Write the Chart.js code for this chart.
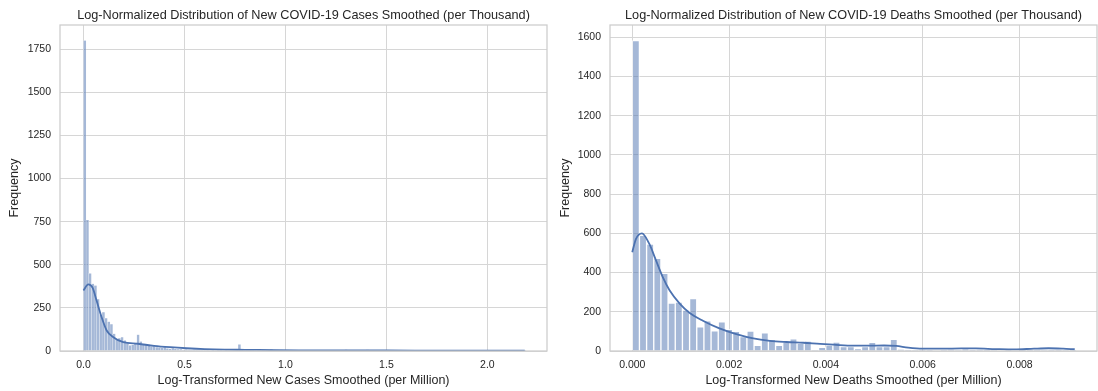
<!DOCTYPE html>
<html>
<head>
<meta charset="utf-8">
<script src="https://cdn.jsdelivr.net/npm/chart.js@4.4.1/dist/chart.umd.min.js"></script>
<style>
  body { margin: 0; background: #fff; width: 1098px; height: 391px; overflow: hidden; position: relative; }
  .panel { position: absolute; top: 0; width: 549px; height: 391px; }
</style>
</head>
<body>
<div class="panel" style="left:0"><canvas id="cases" width="549" height="391"></canvas></div>
<div class="panel" style="left:549px"><canvas id="deaths" width="549" height="391"></canvas></div>
<script>
// histogram bins: first edge + width, counts
const casesBinStart = 0;
const casesBinWidth = 0.0132;
const casesCounts = [
  1800, 760, 450, 390, 380, 300, 210, 225, 190, 170,
  155, 100, 70, 75, 80, 62, 45, 33, 35, 48,
  95, 55, 35, 38, 30, 25, 28, 22, 20, 18,
  22, 15, 14, 16, 12, 10, 11, 8, 9, 7,
  6, 8, 5, 6, 4, 5, 4, 3, 6, 3,
  8, 2, 3, 2, 3, 2, 4, 2, 38, 5,
  3, 2, 4, 1, 3, 2, 1, 2, 3, 1,
  9, 2, 1, 3, 1, 2, 0, 1, 2, 1,
  1, 0, 2, 1, 0, 1, 2, 0, 1, 1,
  0, 1, 2, 0, 1, 0, 1, 2, 8, 1,
  0, 1, 0, 2, 1, 0, 7, 1, 0, 1,
  0, 1, 0, 0, 1, 0, 1, 0, 0, 1,
  0, 0, 1, 0, 1, 0, 0, 1, 0, 0,
  1, 0, 0, 1, 0, 0, 1, 0, 0, 1,
  0, 0, 1, 0, 0, 0, 1, 0, 0, 1,
  0, 0, 0, 1, 0, 0, 1, 0, 0, 0,
  1, 0, 0, 1, 0, 6
];
const casesKdeX = [0, 0.024, 0.045, 0.065, 0.09, 0.115, 0.148, 0.197, 0.27, 0.35, 0.43, 0.51, 0.6, 0.7, 0.8, 0.95, 1.1, 1.3, 1.5, 1.7, 1.9, 2.1, 2.185];
const casesKdeY = [351, 386, 367, 293, 196, 119, 80, 51, 42, 30, 22, 16, 11, 8, 7, 5, 4, 3, 3, 2.5, 2, 2, 2];
const casesXTicks = [0, 0.5, 1, 1.5, 2];
const casesYTicks = [0, 250, 500, 750, 1000, 1250, 1500, 1750];

const deathsBinStart = 0;
const deathsBinWidth = 0.000148;
const deathsCounts = [
  1583, 590, 545, 472, 396, 244, 250, 208, 267, 123,
  154, 103, 149, 110, 100, 73, 101, 29, 93, 59,
  29, 46, 62, 39, 51, 3, 19, 30, 46, 22,
  22, 12, 22, 44, 22, 22, 59, 8, 5, 3,
  6, 4, 0, 5, 7, 3, 9, 4, 6, 2,
  3, 0, 2, 0, 1, 4, 6, 3, 5, 2,
  3, 4
];
const deathsKdeX = [0, 0.000077, 0.0002, 0.00035, 0.00049, 0.00063, 0.00077, 0.00098, 0.00118, 0.00146, 0.0018, 0.00215, 0.0025, 0.00284, 0.00319, 0.00353, 0.00388, 0.00416, 0.00457, 0.00488, 0.0052, 0.00545, 0.0057, 0.006, 0.0064, 0.0068, 0.0071, 0.0075, 0.0079, 0.0083, 0.0086, 0.0089, 0.00914];
const deathsKdeY = [504, 572, 600, 547, 462, 377, 310, 242, 195, 154, 115, 86, 64, 52, 46, 42, 36, 32, 27, 27, 28, 26, 17, 12, 12, 13, 13, 10, 8, 12, 14, 12, 9];
const deathsXTicks = [0, 0.002, 0.004, 0.006, 0.008];
const deathsYTicks = [0, 200, 400, 600, 800, 1000, 1200, 1400, 1600];

const FONT = '"Liberation Sans", Arial, sans-serif';
const INK = '#262626';
const GRID = '#d6d6d6';

// spines on all four sides
const framePlugin = {
  id: 'frame',
  afterDatasetsDraw(chart) {
    const a = chart.chartArea, ctx = chart.ctx;
    ctx.save();
    ctx.strokeStyle = '#cccccc';
    ctx.lineWidth = 1.25;
    ctx.strokeRect(a.left, a.top, a.right - a.left, a.bottom - a.top);
    ctx.restore();
  }
};

// axes title, centred over the plot area like matplotlib does
const axTitlePlugin = {
  id: 'axTitle',
  afterDraw(chart, args, opts) {
    const a = chart.chartArea, ctx = chart.ctx;
    ctx.save();
    ctx.fillStyle = INK;
    ctx.font = '12.7px ' + FONT;
    ctx.textAlign = 'center';
    ctx.textBaseline = 'middle';
    ctx.fillText(opts.text, (a.left + a.right) / 2, 15.5);
    ctx.restore();
  }
};

function makeHist(canvasId, o) {
  const bars = o.counts.map((c, i) => ({ x: o.binStart + (i + 0.5) * o.binWidth, y: c }));
  const kde = o.kdeX.map((x, i) => ({ x: x, y: o.kdeY[i] }));
  return new Chart(document.getElementById(canvasId), {
    type: 'bar',
    data: {
      datasets: [{
        type: 'line',
        data: kde,
        borderColor: '#4c72b0',
        borderWidth: 1.8,
        pointRadius: 0,
        cubicInterpolationMode: 'monotone',
        order: 0
      }, {
        type: 'bar',
        data: bars,
        backgroundColor: 'rgba(76,114,176,0.5)',
        borderColor: 'rgba(255,255,255,0.75)',
        borderWidth: o.barBorder,
        borderSkipped: 'start',
        barPercentage: 1,
        categoryPercentage: 1,
        grouped: false,
        order: 1
      }]
    },
    options: {
      responsive: false,
      animation: false,
      layout: { padding: { left: 0, right: o.padRight, top: 25, bottom: 0 } },
      plugins: {
        legend: { display: false },
        tooltip: { enabled: false },
        title: { display: false },
        axTitle: { text: o.title }
      },
      scales: {
        x: {
          type: 'linear',
          min: o.xMin,
          max: o.xMax,
          offset: false,
          grid: { color: GRID, lineWidth: 1, drawTicks: false, offset: false },
          border: { display: false },
          ticks: {
            color: INK,
            font: { family: FONT, size: 10.5 },
            padding: 8,
            maxRotation: 0,
            callback: v => v.toFixed(o.xDigits)
          },
          afterBuildTicks: s => { s.ticks = o.xTicks.map(v => ({ value: v })); },
          afterFit: s => { s.height = 40; },
          title: {
            display: true,
            text: o.xTitle,
            color: INK,
            font: { family: FONT, size: 12.5 },
            padding: { top: 3, bottom: 3 }
          }
        },
        y: {
          min: 0,
          max: o.yMax,
          grid: { color: GRID, lineWidth: 1, drawTicks: false },
          border: { display: false },
          ticks: {
            color: INK,
            font: { family: FONT, size: 10.5 },
            padding: 9,
            callback: v => String(v)
          },
          afterBuildTicks: s => { s.ticks = o.yTicks.map(v => ({ value: v })); },
          afterFit: s => { s.width = o.yWidth; },
          title: {
            display: true,
            text: 'Frequency',
            color: INK,
            font: { family: FONT, size: 12.5 },
            padding: { top: o.yTitlePad, bottom: o.yTitlePad }
          }
        }
      }
    },
    plugins: [framePlugin, axTitlePlugin]
  });
}

makeHist('cases', {
  title: 'Log-Normalized Distribution of New COVID-19 Cases Smoothed (per Thousand)',
  xTitle: 'Log-Transformed New Cases Smoothed (per Million)',
  counts: casesCounts, binStart: casesBinStart, binWidth: casesBinWidth,
  kdeX: casesKdeX, kdeY: casesKdeY,
  xTicks: casesXTicks, yTicks: casesYTicks,
  xMin: -0.116, xMax: 2.295, yMax: 1890, xDigits: 1,
  yWidth: 60, padRight: 2, yTitlePad: 7, barBorder: 0.4
});

makeHist('deaths', {
  title: 'Log-Normalized Distribution of New COVID-19 Deaths Smoothed (per Thousand)',
  xTitle: 'Log-Transformed New Deaths Smoothed (per Million)',
  counts: deathsCounts, binStart: deathsBinStart, binWidth: deathsBinWidth,
  kdeX: deathsKdeX, kdeY: deathsKdeY,
  xTicks: deathsXTicks, yTicks: deathsYTicks,
  xMin: -0.00046, xMax: 0.0096, yMax: 1662, xDigits: 3,
  yWidth: 61, padRight: 1, yTitlePad: 9, barBorder: 1
});
</script>
</body>
</html>
